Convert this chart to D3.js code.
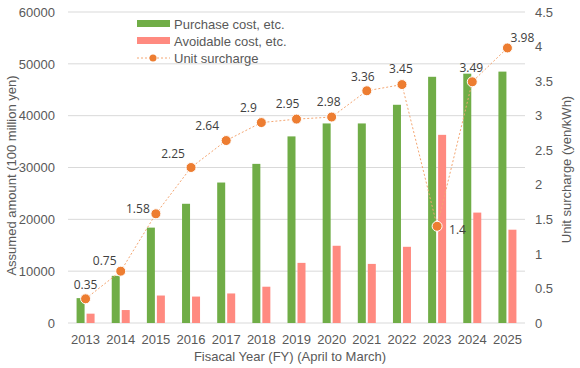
<!DOCTYPE html>
<html>
<head>
<meta charset="utf-8">
<script src="https://cdn.jsdelivr.net/npm/d3@7"></script>
<style>
  body { margin: 0; background: #fff; }
  text { font-family: "Liberation Sans", Arial, sans-serif; fill: #595959; }
  .lbl { font-family: "Open Sans", sans-serif; font-size: 12px; fill: #404040; }
</style>
</head>
<body>
<script>
// data
var years = ["2013","2014","2015","2016","2017","2018","2019","2020","2021","2022","2023","2024","2025"];
var purchaseCost = [4800, 9100, 18400, 23000, 27100, 30700, 36000, 38500, 38500, 42100, 47500, 48100, 48500];
var avoidableCost = [1800, 2500, 5300, 5100, 5700, 7000, 11600, 14900, 11400, 14700, 36300, 21300, 18000];
var surcharge = [0.35, 0.75, 1.58, 2.25, 2.64, 2.9, 2.95, 2.98, 3.36, 3.45, 1.4, 3.49, 3.98];
var leftTicks = [0, 10000, 20000, 30000, 40000, 50000, 60000];
var rightTicks = [0, 0.5, 1, 1.5, 2, 2.5, 3, 3.5, 4, 4.5];

// where each data label sits relative to its dot
var labelDx = [0, -16, -18, -18, -19, -13, -9, -3, -4, -1, 12, -1, 15];
var labelDy = [-14, -10, -5, -14, -15, -15, -15, -15, -14, -16, 4, -14, -10];

var W = 580, H = 368;
var margin = {top: 12, right: 55, bottom: 45, left: 68},
    width = W - margin.left - margin.right,
    height = H - margin.top - margin.bottom;

var svg = d3.select("body").append("svg")
    .attr("width", W)
    .attr("height", H);

var g = svg.append("g")
    .attr("transform", "translate(" + margin.left + "," + margin.top + ")");

var x = d3.scaleBand().domain(years).range([0, width]);
var y = d3.scaleLinear().domain([0, 60000]).range([height, 0]);
var y2 = d3.scaleLinear().domain([0, 4.5]).range([height, 0]);

// gridlines
g.selectAll(".grid").data(leftTicks).enter().append("line")
    .attr("x1", 0).attr("x2", width)
    .attr("y1", function(d) { return y(d); })
    .attr("y2", function(d) { return y(d); })
    .attr("stroke", "#d9d9d9").attr("stroke-width", 1);

// axes
var axL = g.append("g").call(d3.axisLeft(y).tickValues(leftTicks).tickFormat(d3.format("d"))
    .tickSize(0).tickPadding(13));
var axR = g.append("g").attr("transform", "translate(" + width + ",0)")
    .call(d3.axisRight(y2).tickValues(rightTicks).tickFormat(function(d) { return String(d); })
    .tickSize(0).tickPadding(10));
var axB = g.append("g").attr("transform", "translate(0," + height + ")")
    .call(d3.axisBottom(x).tickSize(0).tickPadding(12));
[axL, axR, axB].forEach(function(a) {
    a.select(".domain").remove();
    a.selectAll("text").style("font-family", "Liberation Sans, Arial, sans-serif")
        .style("font-size", "13px").attr("fill", "#595959");
});

// bars
var barW = 8;
g.selectAll(".pc").data(purchaseCost).enter().append("rect")
    .attr("x", function(d, i) { return x(years[i]) + x.bandwidth() / 2 - barW - 1; })
    .attr("y", function(d) { return y(d); })
    .attr("width", barW)
    .attr("height", function(d) { return height - y(d); })
    .attr("fill", "#70ad47");

g.selectAll(".ac").data(avoidableCost).enter().append("rect")
    .attr("x", function(d, i) { return x(years[i]) + x.bandwidth() / 2 + 1; })
    .attr("y", function(d) { return y(d); })
    .attr("width", barW)
    .attr("height", function(d) { return height - y(d); })
    .attr("fill", "#ff8a80");

// surcharge line
var cx = function(d, i) { return x(years[i]) + x.bandwidth() / 2; };
var line = d3.line()
    .x(function(d, i) { return cx(d, i); })
    .y(function(d) { return y2(d); });

g.append("path").datum(surcharge)
    .attr("d", line)
    .attr("fill", "none")
    .attr("stroke", "#f4a672")
    .attr("stroke-width", 1)
    .attr("stroke-dasharray", "2,2");

g.selectAll(".dot").data(surcharge).enter().append("circle")
    .attr("cx", cx)
    .attr("cy", function(d) { return y2(d); })
    .attr("r", 5)
    .attr("fill", "#ed7d31")
    .attr("stroke", "#fff")
    .attr("stroke-width", 1);

g.selectAll(".lbl").data(surcharge).enter().append("text")
    .attr("class", "lbl")
    .attr("x", function(d, i) { return cx(d, i) + labelDx[i]; })
    .attr("y", function(d) { return y2(d); })
    .attr("dy", function(d, i) { return labelDy[i] + 4; })
    .attr("text-anchor", function(d, i) { return i === 10 ? "start" : "middle"; })
    .text(function(d) { return d; });

// axis titles
svg.append("text")
    .attr("transform", "translate(16," + (margin.top + height / 2 + 8) + ") rotate(-90)")
    .attr("text-anchor", "middle")
    .style("font-size", "13px")
    .text("Assumed amount (100 million yen)");

svg.append("text")
    .attr("transform", "translate(571," + (margin.top + height / 2 + 2) + ") rotate(-90)")
    .attr("text-anchor", "middle")
    .style("font-size", "13px")
    .text("Unit surcharge (yen/kWh)");

svg.append("text")
    .attr("x", 290).attr("y", 361)
    .attr("text-anchor", "middle")
    .style("font-size", "13px")
    .text("Fisacal Year (FY) (April to March)");

// legend
var legend = svg.append("g").attr("transform", "translate(137,20)");
var items = ["Purchase cost, etc.", "Avoidable cost, etc.", "Unit surcharge"];
items.forEach(function(name, i) {
    var row = legend.append("g").attr("transform", "translate(0," + (i * 17) + ")");
    if (i < 2) {
        row.append("rect").attr("x", 0).attr("y", 0).attr("width", 33).attr("height", 7)
            .attr("fill", i === 0 ? "#70ad47" : "#ff8a80");
    } else {
        row.append("line").attr("x1", 0).attr("x2", 33).attr("y1", 4).attr("y2", 4)
            .attr("stroke", "#f4a672").attr("stroke-dasharray", "2,2");
        row.append("circle").attr("cx", 16).attr("cy", 4).attr("r", 3.5).attr("fill", "#ed7d31");
    }
    row.append("text").attr("x", 37).attr("y", 8.5)
        .style("font-size", "13px")
        .text(name);
});
</script>
</body>
</html>
